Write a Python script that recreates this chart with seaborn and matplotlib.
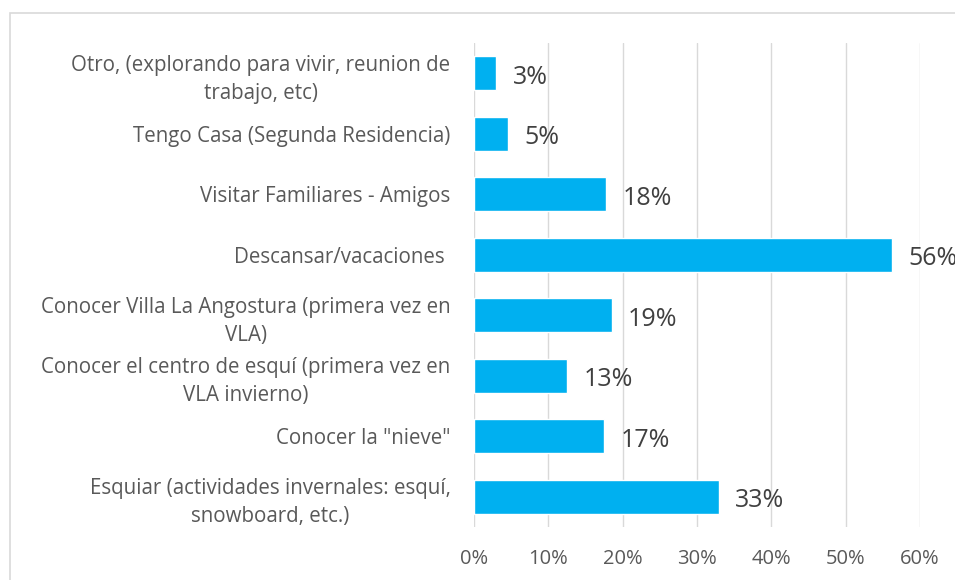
import numpy as np
import matplotlib.pyplot as plt
import seaborn as sns
import pandas as pd
from matplotlib.patches import Rectangle

categories = [
    'Otro, (explorando para vivir, reunion de\ntrabajo, etc)',
    'Tengo Casa (Segunda Residencia)',
    'Visitar Familiares - Amigos',
    'Descansar/vacaciones ',
    'Conocer Villa La Angostura (primera vez en\nVLA)',
    'Conocer el centro de esquí (primera vez en\nVLA invierno)',
    'Conocer la "nieve"',
    'Esquiar (actividades invernales: esquí,\nsnowboard, etc.)',
]
values = [0.030, 0.046, 0.177, 0.562, 0.185, 0.125, 0.175, 0.329]
value_labels = ['3%', '5%', '18%', '56%', '19%', '13%', '17%', '33%']
tick_labels = ['0%', '10%', '20%', '30%', '40%', '50%', '60%']

df = pd.DataFrame({'motivo': categories, 'pct': values})

sns.set_style('white')
plt.rcParams['font.family'] = ['Open Sans', 'DejaVu Sans']

fig = plt.figure(figsize=(9.55, 5.8), dpi=100)
ax = fig.add_axes([474 / 955, 1 - 527 / 580, (920 - 474) / 955, (527 - 43) / 580])

sns.barplot(data=df, x='pct', y='motivo', orient='h', color='#00B0F0',
            saturation=1, width=0.56, ax=ax)

ax.set_xlim(0, 0.6)
ax.set_ylim(7.5, -0.5)
ax.set_xticks(np.arange(0, 0.61, 0.1))
ax.set_xticklabels(tick_labels, fontsize=14.5, color='#595959')
ax.tick_params(axis='x', length=0, pad=16)
ax.tick_params(axis='y', length=0, pad=17)
for lab in ax.get_yticklabels():
    lab.set_fontsize(14.8)
    lab.set_color('#595959')
    lab.set_multialignment('center')
    lab.set_linespacing(1.45)
ax.set_xlabel('')
ax.set_ylabel('')
ax.grid(axis='x', color='#D9D9D9', linewidth=1)
ax.set_axisbelow(True)
for s in ax.spines.values():
    s.set_visible(False)

for i, (v, t) in enumerate(zip(values, value_labels)):
    ax.annotate(t, (v, i), xytext=(12, -3), textcoords='offset points',
                va='center', ha='left', fontsize=18, color='#404040',
                annotation_clip=False)

fig.patches.append(Rectangle((9.5 / 955, -0.1), 1.2, 1.1 - 13.5 / 580,
                             transform=fig.transFigure, fill=False,
                             edgecolor='#D9D9D9', linewidth=1.2))

fig.savefig('out.png', dpi=100)
